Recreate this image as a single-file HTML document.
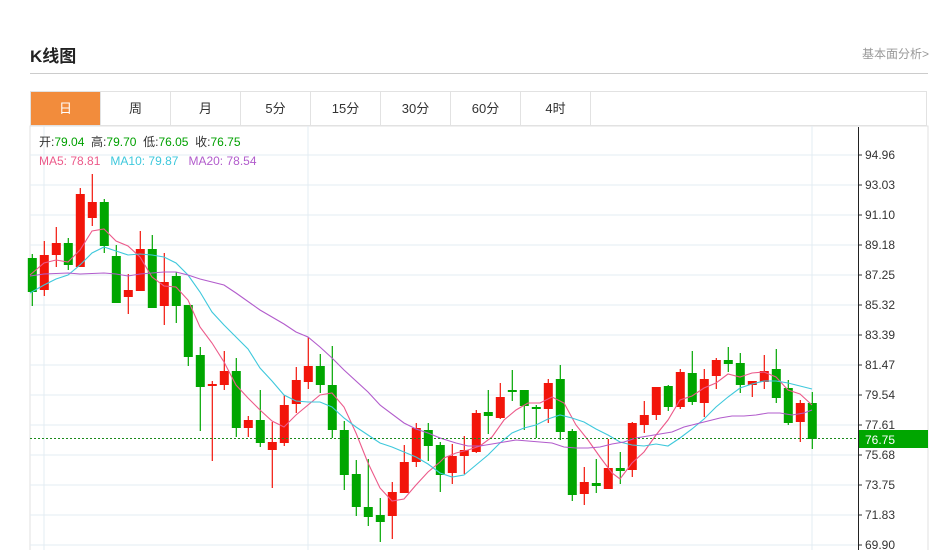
<!DOCTYPE html>
<html><head><meta charset="utf-8"><style>
body{margin:0;background:#fff;width:941px;height:550px;overflow:hidden;position:relative;font-family:"Liberation Sans","Noto Sans CJK SC",sans-serif}
.t{position:absolute;left:30px;top:42px;font-size:17px;font-weight:bold;color:#222}
.r{position:absolute;left:862px;top:45px;font-size:12px;color:#999}
.hr{position:absolute;left:30px;top:73px;width:898px;height:1px;background:#ccc}
.tabs{position:absolute;left:30px;top:91px;width:897px;height:35px;border:1px solid #e2e2e2;box-sizing:border-box;display:flex}
.tabs div{width:70px;box-sizing:border-box;border-right:1px solid #e2e2e2;text-align:center;line-height:33px;font-size:13px;color:#333}
.tabs .a{background:#f28c3c;color:#fff}
svg{position:absolute;left:0;top:0}
</style></head><body>
<div class="t">K线图</div><div class="r">基本面分析&gt;</div><div class="hr"></div>
<div class="tabs"><div class="a">日</div><div>周</div><div>月</div><div>5分</div><div>15分</div><div>30分</div><div>60分</div><div>4时</div></div>
<svg id="s" width="941" height="550" xmlns="http://www.w3.org/2000/svg"></svg>
<script>
var s=document.getElementById('s'),h='';
h+='<rect x="30" y="126" width="898" height="430" fill="none" stroke="#e2e2e2"/>';
var labs=['94.96','93.03','91.10','89.18','87.25','85.32','83.39','81.47','79.54','77.61','75.68','73.75','71.83','69.90'];
for(var k=0;k<14;k++){var y=155+k*30;h+='<line x1="30" y1="'+y+'" x2="858" y2="'+y+'" stroke="#e3ecf3"/>';h+='<line x1="858" y1="'+y+'" x2="862" y2="'+y+'" stroke="#333"/><text x="865" y="'+(y+4)+'" font-size="12" fill="#333">'+labs[k]+'</text>';}
[44,308,812].forEach(function(x){h+='<line x1="'+x+'" y1="126" x2="'+x+'" y2="550" stroke="#e3ecf3"/>';});
var c=[['g',258,292,254,306],['r',255,290,241,296],['r',243,255,227,267],['g',243,265,238,270],['r',194,267,188,267],['r',202,218,174,226],['g',202,246,199,253],['g',256,303,245,303],['r',290,297,274,314],['r',249,291,231,291],['g',249,308,235,308],['r',282,306,253,325],['g',276,306,272,323],['g',305,357,305,366],['g',355,387,347,431],['r',384,386,381,461],['r',371,385,351,390],['g',371,428,358,437],['r',420,428,416,437],['g',420,443,390,447],['r',442,450,422,488],['r',405,443,395,446],['r',380,404,367,413],['r',366,382,337,389],['g',366,385,354,393],['g',385,430,346,438],['g',430,475,421,490],['g',474,507,460,516],['g',507,517,459,526],['g',515,522,498,542],['r',492,516,482,539],['r',462,493,445,493],['r',428,462,423,467],['g',430,446,423,461],['g',445,475,442,492],['r',456,473,444,484],['r',450,456,436,474],['r',413,452,410,453],['g',412,416,390,434],['r',397,418,383,419],['g',390,392,370,401],['g',390,406,390,430],['g',407,409,405,438],['r',383,409,379,423],['g',379,432,365,440],['g',431,495,429,501],['r',482,494,467,505],['g',483,486,459,493],['r',468,489,439,489],['g',468,471,452,484],['r',423,470,422,477],['r',415,425,401,433],['r',387,415,387,420],['g',386,407,385,411],['r',372,407,369,409],['g',373,402,351,405],['r',379,403,369,417],['r',360,376,358,389],['g',360,364,347,372],['g',363,385,353,393],['r',381,385,381,397],['r',371,382,355,389],['g',369,398,349,403],['g',388,423,380,425],['r',403,422,400,442],['g',403,439,392,449]];
c.forEach(function(d,i){var x=32.3+12*i,col=d[0]=='r'?'#f2150a':'#00a600';
h+='<line x1="'+x+'" y1="'+d[3]+'" x2="'+x+'" y2="'+d[4]+'" stroke="'+col+'" stroke-width="1.2"/>';
h+='<rect x="'+(x-4.5)+'" y="'+d[1]+'" width="9" height="'+Math.max(2,d[2]-d[1])+'" fill="'+col+'"/>';});
function pl(p,col){h+='<polyline fill="none" stroke="'+col+'" stroke-width="1.1" points="'+p+'"/>';}
pl('30,275 44,263 56,260 68,262 80,250 92,231 104,229 116,241 128,246 140,257 152,277 164,286 176,287 188,300 200,327 212,343 224,362 236,385 248,398 260,410 272,421 284,427 296,415 308,405 320,395 332,393 344,407 356,433 368,463 380,488 392,501 404,499 416,485 428,472 440,462 444,458 456,453 468,450 480,446 492,437 504,420 516,410 528,403 540,403 552,397 564,403 576,425 588,440 600,457 612,473 620,479 632,463 644,452 656,435 668,420 680,400 692,396 704,388 716,383 728,374 740,377 752,373 764,372 776,377 788,390 800,394 812,405','#ec5a8a');
pl('30,293 44,285 56,279 68,275 80,265 92,253 104,247 116,251 128,255 140,254 152,255 164,257 176,263 188,275 200,292 212,312 224,325 236,337 248,349 260,368 272,381 284,395 296,401 308,402 320,402 332,407 344,418 356,427 368,435 380,443 392,447 404,452 416,457 428,464 440,473 452,477 464,475 476,465 488,455 500,443 512,433 524,428 536,425 548,419 560,415 572,418 584,422 596,429 608,435 620,442 632,445 644,446 656,444 668,446 680,438 692,429 704,419 716,407 728,397 740,388 752,384 764,381 776,381 788,383 800,386 812,389','#3ec8dc');
pl('30,276 44,274 68,273 80,274 104,273 116,274 128,276 140,274 164,272 176,272 188,275 200,279 224,285 236,293 260,310 284,324 296,332 308,337 320,347 332,358 344,370 368,392 380,405 404,423 416,429 428,433 440,438 456,443 468,446 480,446 492,444 504,442 516,440 528,441 540,442 552,443 564,447 576,448 588,448 600,447 612,444 624,442 636,438 648,436 660,434 672,432 684,427 696,424 708,421 720,418 732,416 744,416 756,415 768,413 780,413 792,415 804,413 812,410','#b25ccc');
h+='<line x1="30" y1="438.5" x2="858" y2="438.5" stroke="#1a8a1a" stroke-dasharray="2,2"/>';
h+='<line x1="858.5" y1="127" x2="858.5" y2="550" stroke="#222"/>';
h+='<rect x="859" y="430" width="69" height="18" fill="#00a600"/><text x="865" y="444" font-size="12" fill="#fff">76.75</text>';
h+='<text x="39" y="146" font-size="12" fill="#333" xml:space="preserve">开:<tspan fill="#00a000">79.04</tspan>  高:<tspan fill="#00a000">79.70</tspan>  低:<tspan fill="#00a000">76.05</tspan>  收:<tspan fill="#00a000">76.75</tspan></text>';
h+='<text x="39" y="165" font-size="12" xml:space="preserve"><tspan fill="#ec5a8a">MA5: 78.81</tspan>   <tspan fill="#3ec8dc">MA10: 79.87</tspan>   <tspan fill="#b25ccc">MA20: 78.54</tspan></text>';
s.innerHTML=h;
</script>
</body></html>
